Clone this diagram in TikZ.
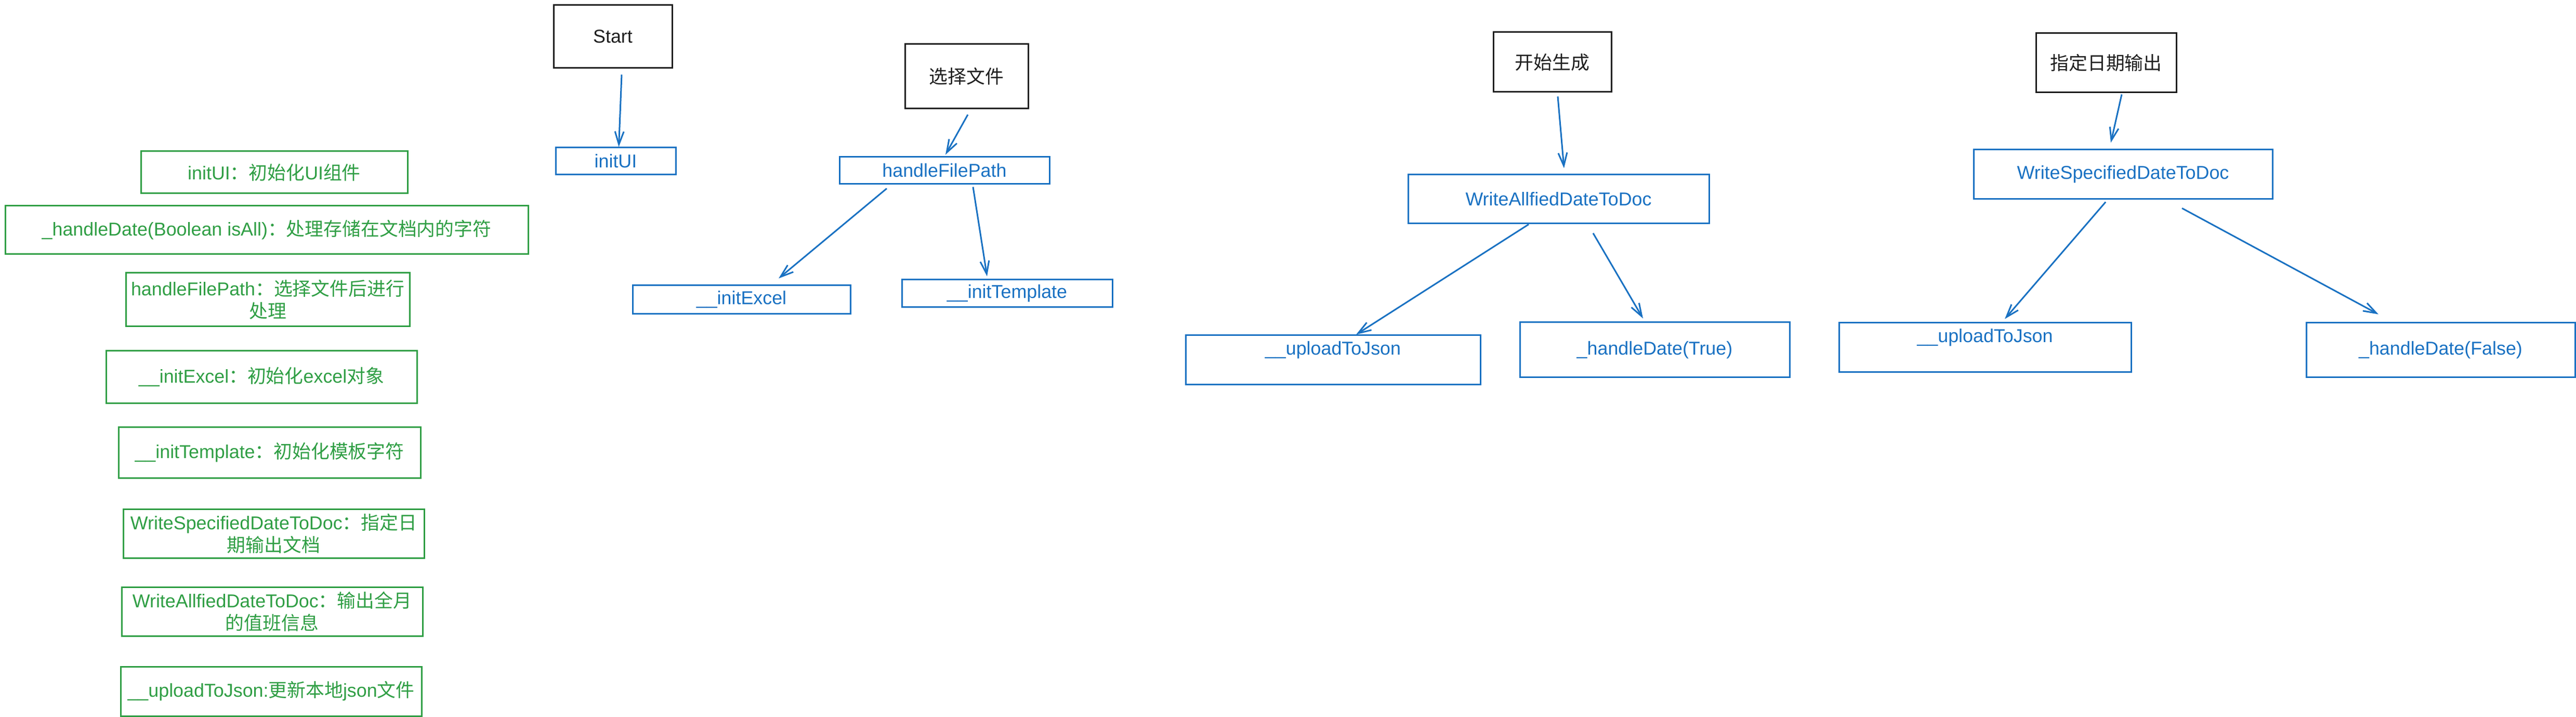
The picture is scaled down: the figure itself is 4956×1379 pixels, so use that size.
\documentclass[tikz,border=0pt]{standalone}
\usepackage{fontspec}
\setmainfont{Liberation Sans}
\newfontfamily\cjk{Noto Sans CJK SC}
\newcommand{\zh}[1]{{\cjk #1}}
\usetikzlibrary{arrows.meta}
\tikzset{>={Straight Barb[length=2.5mm, width=1.7mm]}}
\definecolor{exgreen}{HTML}{2F9E44}
\definecolor{exblue}{HTML}{1971C2}
\definecolor{exblack}{HTML}{1E1E1E}

\begin{document}
\begin{tikzpicture}[x=0.1mm, y=-0.1mm, font=\fontsize{10.2}{12.3}\selectfont,
	tbox/.style={draw, line width=0.3mm, inner sep=0pt, align=center},
	gbox/.style={tbox, draw=exgreen, text=exgreen},
	bbox/.style={tbox, draw=exblue, text=exblue},
	kbox/.style={tbox, draw=exblack, text=exblack},
	uptext/.style={text depth=4.5mm},
	arr/.style={->, draw=exblue, line width=0.3mm}]
	\useasboundingbox (0,0) rectangle (4956,1379);
	% left column: notes
	\node[gbox, minimum width=51.3mm, minimum height=8.1mm] (gInitUI) at (527.5,331.5) {initUI\zh{：初始化}UI\zh{组件}};
	\node[gbox, minimum width=100.6mm, minimum height=9.3mm] (gHandleDate) at (513,442.5) {\_handleDate(Boolean isAll)\zh{：处理存储在文档内的字符}};
	\node[gbox, minimum width=54.6mm, minimum height=10.3mm] (gFilePath) at (515,576.5) {handleFilePath\zh{：选择文件后进行}\\\zh{处理}};
	\node[gbox, minimum width=59.8mm, minimum height=10.2mm] (gExcel) at (503,725) {\_\_initExcel\zh{：初始化}excel\zh{对象}};
	\node[gbox, minimum width=58.1mm, minimum height=9.8mm] (gTemplate) at (518.5,870) {\_\_initTemplate\zh{：初始化模板字符}};
	\node[gbox, minimum width=57.9mm, minimum height=9.4mm] (gSpecified) at (526.5,1026) {WriteSpecifiedDateToDoc\zh{：指定日}\\\zh{期输出文档}};
	\node[gbox, minimum width=57.9mm, minimum height=9.4mm] (gAllfied) at (523.5,1176) {WriteAllfiedDateToDoc\zh{：输出全月}\\\zh{的值班信息}};
	\node[gbox, minimum width=57.9mm, minimum height=9.5mm] (gUpload) at (521.5,1329.5) {\_\_uploadToJson:\zh{更新本地}json\zh{文件}};

	% start
	\node[kbox, minimum width=22.8mm, minimum height=12.1mm] (kStart) at (1179,70.5) {Start};
	\node[bbox, minimum width=23.1mm, minimum height=5.2mm] (bInitUI) at (1184.5,310) {initUI};
	\draw[arr] ([xshift=1.7mm, yshift=-1.1mm]kStart.south) -- ([xshift=0.6mm]bInitUI.north);

	% choose file
	\node[kbox, minimum width=23.7mm, minimum height=12.4mm] (kChoose) at (1859.5,147) {\zh{选择文件}};
	\node[bbox, minimum width=40.4mm, minimum height=5.2mm] (bFilePath) at (1817,328) {handleFilePath};
	\node[bbox, minimum width=41.9mm, minimum height=5.5mm] (bExcel) at (1426.5,576.5) {\_\_initExcel};
	\node[bbox, minimum width=40.5mm, minimum height=5.3mm] (bTemplate) at (1937.5,564.5) {\_\_initTemplate};
	\draw[arr] ([xshift=0.25mm, yshift=-1mm]kChoose.south) -- ([xshift=0.2mm, yshift=0.3mm]bFilePath.north);
	\draw[arr] ([xshift=-11.1mm, yshift=-0.7mm]bFilePath.south) -- ([xshift=7.15mm, yshift=1.2mm]bExcel.north);
	\draw[arr] ([xshift=5.5mm, yshift=-0.4mm]bFilePath.south) -- ([xshift=-3.85mm, yshift=0.5mm]bTemplate.north);

	% generate all
	\node[kbox, minimum width=22.7mm, minimum height=11.5mm] (kGen) at (2986.5,119.5) {\zh{开始生成}};
	\node[bbox, minimum width=57.9mm, minimum height=9.4mm] (bAllfied) at (2998.5,383) {WriteAllfiedDateToDoc};
	\node[bbox, uptext, minimum width=56.7mm, minimum height=9.5mm] (bUploadA) at (2564.5,692.5) {\_\_uploadToJson};
	\node[bbox, minimum width=51.9mm, minimum height=10.6mm] (bHandleTrue) at (3183.5,673) {\_handleDate(True)};
	\draw[arr] ([xshift=1.05mm, yshift=-0.7mm]kGen.south) -- ([xshift=1.05mm, yshift=1.1mm]bAllfied.north);
	\draw[arr] ([xshift=-5.75mm]bAllfied.south) -- ([xshift=4.45mm]bUploadA.north);
	\draw[arr] ([xshift=6.65mm, yshift=-1.7mm]bAllfied.south) -- ([xshift=-2.25mm, yshift=0.6mm]bHandleTrue.north);

	% given date
	\node[kbox, minimum width=27mm, minimum height=11.4mm] (kDate) at (4052,121) {\zh{指定日期输出}};
	\node[bbox, minimum width=57.5mm, minimum height=9.5mm] (bSpecified) at (4084.5,335.5) {WriteSpecifiedDateToDoc};
	\node[bbox, uptext, minimum width=56.2mm, minimum height=9.5mm] (bUploadB) at (3819,668.5) {\_\_uploadToJson};
	\node[bbox, minimum width=51.7mm, minimum height=10.5mm] (bHandleFalse) at (4695.5,673.5) {\_handleDate(False)};
	\draw[arr] ([xshift=3mm, yshift=-0.2mm]kDate.south) -- ([xshift=-2.35mm, yshift=1.2mm]bSpecified.north);
	\draw[arr] ([xshift=-3.35mm, yshift=-0.4mm]bSpecified.south) -- ([xshift=3.8mm, yshift=0.6mm]bUploadB.north);
	\draw[arr] ([xshift=11.35mm, yshift=-1.6mm]bSpecified.south) -- ([xshift=-11.95mm, yshift=1.5mm]bHandleFalse.north);
\end{tikzpicture}
\end{document}
